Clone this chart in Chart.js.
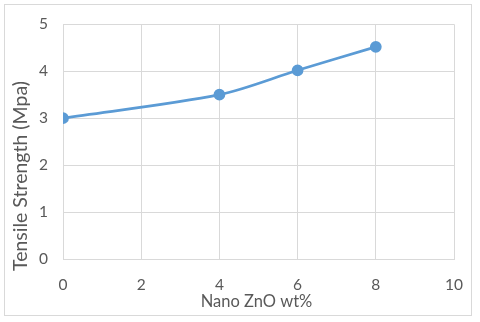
<!DOCTYPE html>
<html>
<head>
<meta charset="utf-8">
<script src="https://cdn.jsdelivr.net/npm/chart.js@4.4.1/dist/chart.umd.min.js"></script>
<style>
  body { margin: 0; background: #fff; }
  #wrap { position: relative; width: 480px; height: 322px; }
  #frame { position: absolute; left: 4px; top: 4px; width: 466px; height: 310px; border: 1px solid #d9d9d9; }
  canvas { position: absolute; left: 0; top: 0; }
</style>
</head>
<body>
<div id="wrap">
  <div id="frame"></div>
  <canvas id="myc" width="480" height="322"></canvas>
</div>
<script>
// data
var zno = [0, 4, 6, 8]
var strength = [3.0, 3.5, 4.02, 4.52]
var xTitle = "Nano ZnO wt%"
var yTitle = "Tensile Strength (Mpa)"

var txtColor = "#595959"
var gridColor = "#d9d9d9"
var fontFam = "Lato, 'Open Sans', sans-serif"

var pts = zno.map(function (x, i) { return { x: x, y: strength[i] } })

// axis titles drawn by hand so they sit where Excel put them
var axisTitles = {
  id: 'axisTitles',
  afterDraw: function (chart) {
    var c = chart.ctx
    var a = chart.chartArea
    c.save()
    c.fillStyle = txtColor
    c.textAlign = "center"
    c.textBaseline = "middle"
    c.font = "16.5px " + fontFam
    c.fillText(xTitle, (a.left + a.right) / 2 - 2, 302)
    c.font = "19.5px " + fontFam
    c.translate(21, 176)
    c.rotate(-Math.PI / 2)
    c.fillText(yTitle, 0, 0)
    c.restore()
  }
}

const config = {
  type: 'scatter',
  data: {
    datasets: [{
      data: pts,
      showLine: true,
      borderColor: '#5B9BD5',
      backgroundColor: '#5B9BD5',
      borderWidth: 2.75,
      pointRadius: 4.5,
      pointHoverRadius: 4.5,
      tension: 0.3
    }]
  },
  options: {
    responsive: false,
    animation: false,
    layout: { padding: { top: 15.7, right: 24, left: 0, bottom: 0 } },
    plugins: { legend: { display: false }, tooltip: { enabled: false } },
    scales: {
      x: {
        type: 'linear', min: 0, max: 10,
        ticks: { stepSize: 2, color: txtColor, font: { family: fontFam, size: 15.5 }, padding: 17 },
        grid: { color: gridColor, drawTicks: false },
        border: { color: gridColor },
        afterFit: function (s) { s.height = 322 - 259 }
      },
      y: {
        min: 0, max: 5,
        ticks: { stepSize: 1, color: txtColor, font: { family: fontFam, size: 15.5 }, padding: 15 },
        grid: { color: gridColor, drawTicks: false },
        border: { color: gridColor },
        afterFit: function (s) { s.width = 63 }
      }
    }
  },
  plugins: [axisTitles]
}

const ctx = document.getElementById('myc').getContext('2d')
var myChart = new Chart(ctx, config)
</script>
</body>
</html>
